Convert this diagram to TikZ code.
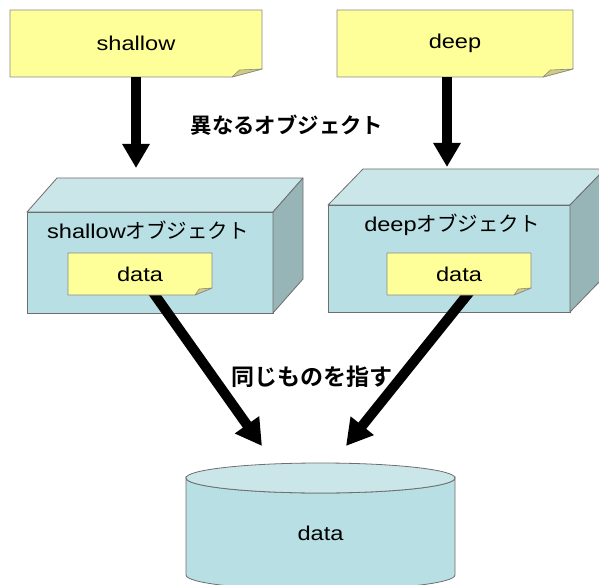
\documentclass[tikz,border=0pt]{standalone}
\usepackage{fontspec}
\setmainfont{Liberation Sans}[FakeStretch=1.18]
\newfontfamily\jp{Noto Sans CJK JP}[BoldFont={Noto Sans CJK JP Bold}]
\usetikzlibrary{arrows.meta}

\definecolor{notefill}{HTML}{FFFF99}
\definecolor{noteflap}{HTML}{D2CC7E}
\definecolor{noteline}{HTML}{8A8A8A}
\definecolor{boxfront}{HTML}{B8DFE3}
\definecolor{boxtop}{HTML}{CAE6E8}
\definecolor{boxside}{HTML}{97B4B7}
\definecolor{boxline}{HTML}{6E6E6E}

\pgfdeclarelayer{bg}
\pgfdeclarelayer{mid}
\pgfsetlayers{bg,mid,main}

\tikzset{
  lbl/.style={font=\fontsize{20}{22}\selectfont, inner sep=0pt},
  biglbl/.style={font=\jp\bfseries\fontsize{21.4}{24}\selectfont, inner sep=0pt},
  bigarrow/.style={line width=10.5pt, -{Triangle[length=24pt,width=26pt]}},
  diagarrow/.style={line width=10pt, -{Triangle[length=26pt,width=28pt]}},
  facefront/.style={fill=boxfront, draw=boxline, line width=0.8pt, inner sep=0pt, outer sep=0pt},
  facetop/.style={fill=boxtop, draw=boxline, line width=0.8pt, line join=round},
  faceside/.style={fill=boxside, draw=boxline, line width=0.8pt, line join=round},
}

% sticky note with a curled lower right corner:
% name, centre x, centre y, width, height, fold width, fold height, text
\newcommand{\stickynote}[8]{%
  \pgfmathsetmacro\nbL{#2-#4/2}%
  \pgfmathsetmacro\nbR{#2+#4/2}%
  \pgfmathsetmacro\nbT{#3-#5/2}%
  \pgfmathsetmacro\nbB{#3+#5/2}%
  \filldraw[fill=notefill, draw=noteline, line width=0.8pt, line join=round]
    (\nbL,\nbT) -- (\nbR,\nbT) -- (\nbR,\nbB-#7) -- (\nbR-#6,\nbB) -- (\nbL,\nbB) -- cycle;
  \filldraw[fill=noteflap, draw=noteline, line width=0.6pt, line join=round]
    (\nbR-#6,\nbB) -- (\nbR,\nbB-#7) -- (\nbR-#6+0.25*#6,\nbB-#7+1) -- cycle;
  \node[lbl, minimum width=#4pt, minimum height=#5pt, outer sep=0pt] (#1) at (#2,#3) {#8};
}

% box with a front face node, a top face and a right face:
% name, left, top, right, bottom, depth x, depth y
\newcommand{\cuboid}[7]{%
  \node[facefront, minimum width={(#4-#2)*1pt}, minimum height={(#5-#3)*1pt}]
    (#1) at ({(#2+#4)/2},{(#3+#5)/2}) {};
  \filldraw[facetop] (#1.north west) -- ++(#6,-#7) -- ([shift={(#6,-#7)}]#1.north east)
    -- (#1.north east) -- cycle;
  \filldraw[faceside] (#1.north east) -- ++(#6,-#7) -- ([shift={(#6,-#7)}]#1.south east)
    -- (#1.south east) -- cycle;
}

\begin{document}
\begin{tikzpicture}[x=1pt, y=-1pt]
\useasboundingbox (0,0) rectangle (599,585);

% the two objects
\begin{pgfonlayer}{bg}
  \cuboid{sbox}{27}{212}{273}{313}{30}{34}
  \cuboid{dbox}{328}{205}{570}{312}{35}{36}
\end{pgfonlayer}
\node[lbl] (stitle) at (148,230) {shallow{\jp\fontsize{20.5}{22}\selectfont オブジェクト}};
\node[lbl] (dtitle) at (452,225) {deep{\jp\fontsize{20.5}{22}\selectfont オブジェクト}};

% data members inside the objects
\stickynote{sdata}{140}{274}{144}{42}{17}{7}{data}
\stickynote{ddata}{459}{274}{144}{42}{17}{7}{data}

% the variables
\stickynote{shallow}{136}{43.5}{252}{67}{30}{8}{shallow}
\stickynote{deep}{455}{43.5}{236}{67}{30}{8}{deep}

% shared data store
\filldraw[fill=boxfront, draw=boxline, line width=0.8pt]
  (186,478) -- (186,575) arc[start angle=180, end angle=360, x radius=134.5pt, y radius=15pt]
  -- (455,478) arc[start angle=0, end angle=-180, x radius=134.5pt, y radius=15pt] -- cycle;
\filldraw[fill=boxtop, draw=boxline, line width=0.8pt]
  (320.5,478) ellipse[x radius=134.5pt, y radius=15pt];
\node[lbl] (store) at (320.5,533) {data};

% connectors
\coordinate (sin) at (136,168);
\coordinate (din) at (447,167);
\coordinate (tipS) at (262,446);
\coordinate (tipD) at (346,446);
\draw[bigarrow] (shallow.south) -- (sin);
\draw[bigarrow] ([xshift=-8pt]deep.south) -- (din);
\begin{pgfonlayer}{mid}
  \draw[diagarrow] (sdata.center) -- (tipS);
  \draw[diagarrow] ([xshift=25pt]ddata.center) -- (tipD);
\end{pgfonlayer}

% captions
\node[biglbl] (diff) at (287,125) {異なるオブジェクト};
\node[biglbl, font=\jp\bfseries\fontsize{23}{26}\selectfont] (same) at (312,377) {同じものを指す};
\end{tikzpicture}
\end{document}
